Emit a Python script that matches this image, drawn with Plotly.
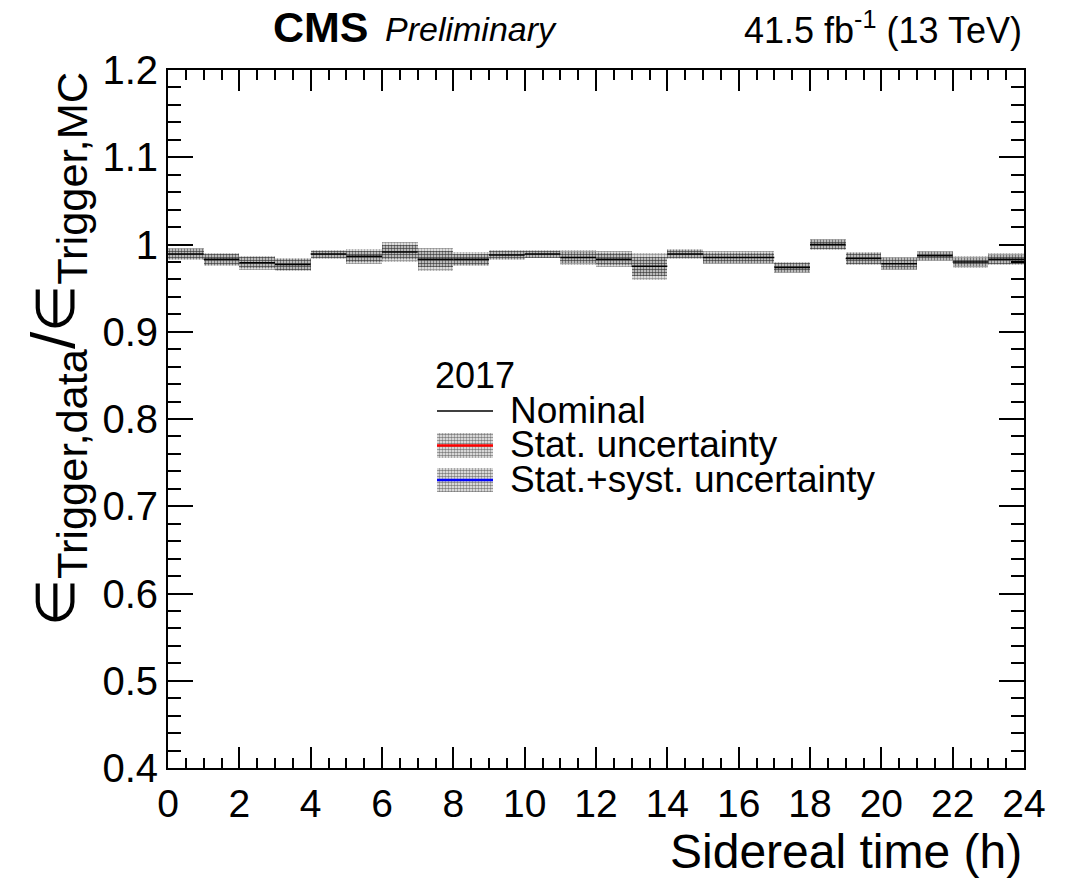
import plotly.graph_objects as go

# ---- data ----
bin_edges = [0, 1, 2, 3, 4, 5, 6, 7, 8, 9, 10, 11, 12, 13, 14, 15, 16, 17, 18, 19, 20, 21, 22, 23, 24]
nominal = [0.989, 0.983, 0.979, 0.977, 0.989, 0.9865, 0.9915, 0.983, 0.983, 0.988, 0.989, 0.985,
           0.983, 0.975, 0.989, 0.985, 0.985, 0.9735, 1.000, 0.984, 0.978, 0.987, 0.980, 0.983]
total_unc = [0.0071, 0.0077, 0.0083, 0.0077, 0.0052, 0.0085, 0.011, 0.0129, 0.008, 0.0054, 0.005, 0.0085,
             0.009, 0.0154, 0.0054, 0.0075, 0.0075, 0.0067, 0.0065, 0.0077, 0.0077, 0.006, 0.0065, 0.007]
stat_unc = [0.0055, 0.006, 0.0065, 0.006, 0.004, 0.0065, 0.008, 0.009, 0.006, 0.0042, 0.004, 0.0065,
            0.007, 0.011, 0.0042, 0.0058, 0.0058, 0.0052, 0.005, 0.006, 0.006, 0.0047, 0.005, 0.0055]
x_ticks = [0, 2, 4, 6, 8, 10, 12, 14, 16, 18, 20, 22, 24]
y_ticks = [0.4, 0.5, 0.6, 0.7, 0.8, 0.9, 1.0, 1.1, 1.2]
y_ticklabels = ["0.4", "0.5", "0.6", "0.7", "0.8", "0.9", "1", "1.1", "1.2"]

FONT = "Liberation Sans, Arial, Helvetica, sans-serif"
XR = (0, 24)
YR = (0.4, 1.2)

centers = [(bin_edges[i] + bin_edges[i + 1]) / 2 for i in range(len(nominal))]
widths = [bin_edges[i + 1] - bin_edges[i] for i in range(len(nominal))]

pat_total = dict(shape=".", size=3, solidity=0.6, fgcolor="rgba(0,0,0,0.85)", bgcolor="rgba(0,0,0,0)")
pat_stat = dict(shape=".", size=3, solidity=0.6, fgcolor="black", bgcolor="rgba(0,0,0,0)")

fig = go.Figure()

fig.add_trace(go.Bar(
    x=centers, width=widths,
    base=[n - u for n, u in zip(nominal, total_unc)],
    y=[2 * u for u in total_unc],
    marker=dict(color="rgba(0,0,0,0)", line=dict(width=0), pattern=pat_total),
    showlegend=False, hoverinfo="skip"))
fig.add_trace(go.Bar(
    x=centers, width=widths,
    base=[n - u for n, u in zip(nominal, stat_unc)],
    y=[2 * u for u in stat_unc],
    marker=dict(color="rgba(0,0,0,0)", line=dict(width=0), pattern=pat_stat),
    showlegend=False, hoverinfo="skip"))

# nominal as horizontal segments per bin
sx, sy = [], []
for i, v in enumerate(nominal):
    sx += [bin_edges[i], bin_edges[i + 1], None]
    sy += [v, v, None]
fig.add_trace(go.Scatter(x=sx, y=sy, mode="lines", line=dict(color="black", width=1.5),
                         showlegend=False, hoverinfo="skip"))

# ---- manual legend (pixel layout -> data coords) ----
L, R, T, B = 168, 1024, 70, 768
def px2x(p):
    return XR[0] + (p - L) / (R - L) * (XR[1] - XR[0])
def py2y(p):
    return YR[1] - (p - T) / (B - T) * (YR[1] - YR[0])
def py2paper(p):
    return (B - p) / (B - T)
def px2paper(p):
    return (p - L) / (R - L)

x0, x1 = px2x(437), px2x(493)
fig.add_trace(go.Scatter(x=[x0, x1], y=[py2y(411), py2y(411)], mode="lines",
                         line=dict(color="black", width=1.5), showlegend=False, hoverinfo="skip"))
for (ytop, ybot, col) in [(433, 458, "red"), (468, 492, "blue")]:
    fig.add_trace(go.Scatter(x=[x0, x1, x1, x0, x0],
                             y=[py2y(ytop), py2y(ytop), py2y(ybot), py2y(ybot), py2y(ytop)],
                             mode="lines", line=dict(width=0, color="rgba(0,0,0,0)"), fill="toself",
                             fillcolor="rgba(0,0,0,0)",
                             fillpattern=dict(shape=".", size=3, solidity=0.6, fgcolor="black",
                                              bgcolor="white"),
                             showlegend=False, hoverinfo="skip"))
    ym = py2y((ytop + ybot) / 2)
    fig.add_trace(go.Scatter(x=[x0, x1], y=[ym, ym], mode="lines", line=dict(color=col, width=2.5),
                             showlegend=False, hoverinfo="skip"))

ann = []
for txt, yc, xp, fs in [("2017", 375, 433, 36), ("Nominal", 410, 508, 37),
                        ("Stat. uncertainty", 445, 508, 37),
                        ("Stat.+syst. uncertainty", 480, 508, 37)]:
    ann.append(dict(text=txt, xref="paper", yref="paper", x=px2paper(xp), y=py2paper(yc),
                    xanchor="left", yanchor="middle", showarrow=False,
                    font=dict(family=FONT, size=fs, color="black")))

ann.append(dict(text="<b>CMS</b>", xref="paper", yref="paper", x=px2paper(271), y=py2paper(27),
                xanchor="left", yanchor="middle", showarrow=False,
                font=dict(family=FONT, size=43, color="black")))
ann.append(dict(text="<i>Preliminary</i>", xref="paper", yref="paper", x=px2paper(383), y=py2paper(29),
                xanchor="left", yanchor="middle", showarrow=False,
                font=dict(family=FONT, size=34, color="black")))
ann.append(dict(text="41.5 fb<sup>-1</sup> (13 TeV)", xref="paper", yref="paper", x=px2paper(1024),
                y=py2paper(28), xanchor="right", yanchor="middle", showarrow=False,
                font=dict(family=FONT, size=36, color="black")))
ann.append(dict(text="Sidereal time (h)", xref="paper", yref="paper", x=1.0, y=py2paper(851),
                xanchor="right", yanchor="middle", showarrow=False,
                font=dict(family=FONT, size=48, color="black")))
ann.append(dict(text="<span style='font-size:54px'>∈</span><sub>Trigger,data</sub>"
                     "/<span style='font-size:54px'>∈</span><sub>Trigger,MC</sub>",
                xref="paper", yref="paper",
                x=px2paper(16), y=py2paper(70), xanchor="left", yanchor="top", textangle=-90,
                showarrow=False, font=dict(family=FONT, size=62, color="black")))

fig.update_layout(
    width=1068, height=879,
    margin=dict(l=L, r=1068 - R, t=T, b=879 - B),
    paper_bgcolor="white", plot_bgcolor="white",
    barmode="overlay", bargap=0,
    showlegend=False,
    annotations=ann,
    font=dict(family=FONT, color="black"),
)
fig.update_xaxes(range=list(XR), tickvals=x_ticks, ticktext=[str(v) for v in x_ticks],
                 ticks="inside", ticklen=21, tickwidth=1.5, tickcolor="black",
                 minor=dict(dtick=0.5, ticks="inside", ticklen=10, tickwidth=1.5, tickcolor="black"),
                 showline=True, linecolor="black", linewidth=2, mirror="allticks",
                 showgrid=False, zeroline=False,
                 tickfont=dict(family=FONT, size=39, color="black"))
fig.update_yaxes(range=list(YR), tickvals=y_ticks, ticktext=y_ticklabels,
                 ticks="inside", ticklen=25, tickwidth=1.5, tickcolor="black",
                 minor=dict(dtick=0.02, tick0=0.4, ticks="inside", ticklen=13, tickwidth=1.5, tickcolor="black"),
                 showline=True, linecolor="black", linewidth=2, mirror="allticks",
                 showgrid=False, zeroline=False,
                 tickfont=dict(family=FONT, size=40, color="black"))

fig.write_html("out.html")
